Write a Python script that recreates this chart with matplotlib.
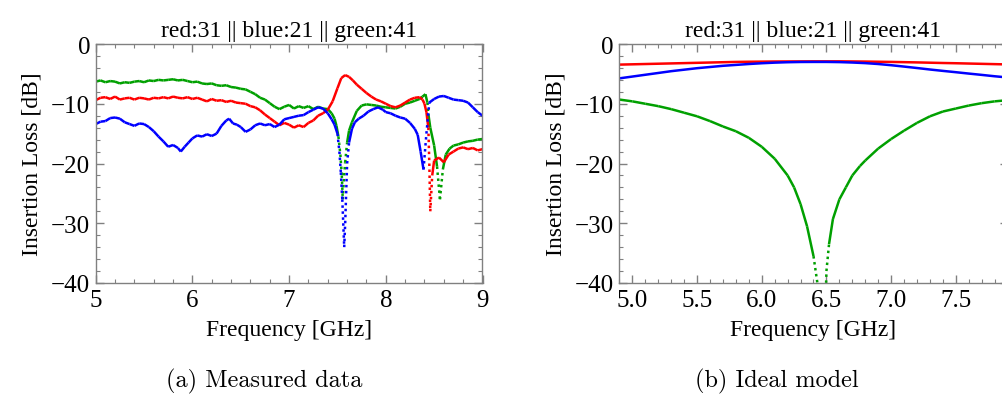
import matplotlib
matplotlib.use("Agg")
import matplotlib.pyplot as plt
from matplotlib.ticker import MultipleLocator, FuncFormatter, FormatStrFormatter

# ---- measured data (panel a) ----
red_f = [5.00, 5.05, 5.10, 5.15, 5.20, 5.25, 5.30, 5.35, 5.40, 5.45, 5.50, 5.55, 5.60, 5.65,
         5.70, 5.75, 5.80, 5.85, 5.90, 5.95, 6.00, 6.05, 6.10, 6.15, 6.20, 6.25, 6.30, 6.35,
         6.40, 6.45, 6.50, 6.55, 6.60, 6.65, 6.70, 6.75, 6.80, 6.85, 6.90, 6.95, 7.00, 7.05,
         7.10, 7.15, 7.20, 7.25, 7.30, 7.35, 7.40, 7.45, 7.50, 7.54, 7.58, 7.62, 7.66, 7.70,
         7.75, 7.80, 7.85, 7.90, 7.95, 8.00, 8.05, 8.10, 8.15, 8.20, 8.25, 8.30, 8.35, 8.38,
         8.40, 8.42, 8.44, 8.45, 8.46, 8.48, 8.50, 8.55, 8.60, 8.65, 8.70, 8.75, 8.80, 8.85,
         8.90, 8.95, 9.00]
red_db = [-9.4, -9.0, -8.9, -9.2, -8.8, -9.3, -9.1, -9.0, -9.3, -9.0, -9.1, -9.3, -9.0, -9.1,
          -8.9, -9.1, -8.8, -9.0, -9.1, -8.9, -9.2, -9.0, -9.3, -9.6, -9.2, -9.5, -9.4, -9.7,
          -9.5, -9.8, -9.9, -10.0, -10.4, -10.6, -11.1, -11.8, -12.4, -13.0, -13.6, -13.2, -13.5, -14.0,
          -13.6, -13.9, -13.2, -12.8, -12.0, -11.6, -11.0, -9.6, -7.4, -5.7, -5.2, -5.5, -6.1, -6.8,
          -7.5, -8.2, -8.8, -9.3, -9.6, -10.0, -10.4, -10.6, -10.3, -9.8, -9.3, -9.0, -8.9, -9.3,
          -10.0, -11.4, -14.0, -20.0, -28.0, -22.0, -19.5, -19.0, -19.8, -18.5, -18.0, -17.5, -17.3, -17.6,
          -17.4, -17.8, -17.6]

green_f = [5.00, 5.05, 5.10, 5.15, 5.20, 5.25, 5.30, 5.35, 5.40, 5.45, 5.50, 5.55, 5.60, 5.65,
           5.70, 5.75, 5.80, 5.85, 5.90, 5.95, 6.00, 6.05, 6.10, 6.15, 6.20, 6.25, 6.30, 6.35,
           6.40, 6.45, 6.50, 6.55, 6.60, 6.65, 6.70, 6.75, 6.80, 6.85, 6.90, 6.95, 7.00, 7.05,
           7.10, 7.15, 7.20, 7.25, 7.30, 7.35, 7.40, 7.44, 7.47, 7.49, 7.51, 7.53, 7.545, 7.555,
           7.565, 7.58, 7.60, 7.62, 7.65, 7.70, 7.75, 7.80, 7.85, 7.90, 7.95, 8.00, 8.05, 8.10,
           8.15, 8.20, 8.25, 8.30, 8.35, 8.38, 8.41, 8.43, 8.44, 8.46, 8.50, 8.53, 8.56, 8.59,
           8.62, 8.66, 8.70, 8.75, 8.80, 8.85, 8.90, 8.95, 9.00]
green_db = [-6.3, -6.1, -6.4, -6.2, -6.3, -6.6, -6.4, -6.5, -6.3, -6.2, -6.4, -6.1, -6.2, -6.0,
            -6.1, -6.0, -5.9, -6.1, -6.0, -6.2, -6.4, -6.3, -6.6, -6.7, -6.6, -6.9, -7.0, -6.9,
            -7.2, -7.3, -7.5, -7.6, -8.0, -8.4, -9.0, -9.3, -9.9, -10.5, -10.9, -10.5, -10.2, -10.8,
            -10.4, -10.7, -10.4, -10.9, -10.5, -10.8, -10.9, -11.6, -12.5, -13.7, -15.5, -18.5, -22.0, -26.0,
            -23.0, -19.8, -16.5, -14.5, -13.1, -11.2, -10.3, -10.1, -10.2, -10.3, -10.5, -10.6, -10.7, -10.8,
            -10.5, -10.0, -9.8, -9.5, -9.2, -8.8, -8.4, -9.8, -11.7, -14.0, -17.0, -20.5, -26.0, -21.0,
            -18.5, -17.5, -17.0, -16.8, -16.5, -16.3, -16.2, -16.0, -15.9]

blue_f = [5.00, 5.05, 5.10, 5.15, 5.20, 5.25, 5.30, 5.35, 5.40, 5.45, 5.50, 5.55, 5.60, 5.65,
          5.70, 5.75, 5.80, 5.85, 5.88, 5.92, 5.96, 6.00, 6.05, 6.10, 6.15, 6.20, 6.25, 6.30,
          6.35, 6.38, 6.42, 6.46, 6.50, 6.55, 6.60, 6.65, 6.70, 6.75, 6.80, 6.85, 6.90, 6.95,
          7.00, 7.05, 7.10, 7.15, 7.20, 7.25, 7.30, 7.35, 7.40, 7.44, 7.47, 7.50, 7.52, 7.535,
          7.55, 7.56, 7.57, 7.58, 7.59, 7.60, 7.62, 7.65, 7.68, 7.72, 7.77, 7.82, 7.87, 7.92,
          7.97, 8.00, 8.05, 8.10, 8.15, 8.20, 8.25, 8.30, 8.33, 8.36, 8.39, 8.42, 8.45, 8.50,
          8.55, 8.60, 8.65, 8.70, 8.75, 8.80, 8.85, 8.90, 8.95, 9.00]
blue_db = [-13.4, -13.0, -12.9, -12.4, -12.3, -12.5, -13.1, -13.4, -13.7, -13.3, -13.4, -13.9, -14.6, -15.5,
           -16.3, -17.2, -16.9, -17.4, -18.0, -17.2, -16.5, -15.8, -15.3, -15.5, -15.1, -15.4, -15.0, -13.7,
           -12.8, -12.5, -13.3, -13.5, -13.9, -14.7, -14.3, -13.6, -13.3, -13.6, -13.4, -13.9, -13.5, -12.6,
           -12.4, -12.2, -12.0, -11.9, -11.4, -11.0, -10.6, -10.8, -11.6, -12.6, -13.5, -15.0, -18.0, -21.5,
           -26.0, -30.0, -34.0, -30.0, -25.0, -20.0, -16.5, -14.2, -13.1, -12.5, -12.0, -11.3, -10.9, -10.6,
           -11.0, -11.4, -11.6, -12.0, -12.3, -12.5, -13.2, -14.2, -15.2, -18.0, -21.0, -15.0, -9.8, -9.2,
           -8.8, -8.7, -9.0, -9.3, -9.4, -9.5, -9.8, -10.6, -11.4, -12.0]

# ---- ideal model (panel b) ----
model_f = [4.90, 5.00, 5.10, 5.20, 5.30, 5.40, 5.50, 5.60, 5.70, 5.80, 5.90, 6.00, 6.10, 6.20,
           6.30, 6.40, 6.50, 6.60, 6.70, 6.80, 6.90, 7.00, 7.10, 7.20, 7.30, 7.40, 7.50, 7.60,
           7.70, 7.80, 7.90]
model_red = [-3.45, -3.40, -3.35, -3.30, -3.25, -3.20, -3.15, -3.10, -3.05, -3.00, -2.97, -2.95, -2.93, -2.92,
             -2.91, -2.90, -2.90, -2.90, -2.92, -2.94, -2.97, -3.00, -3.04, -3.08, -3.13, -3.18, -3.22, -3.27,
             -3.32, -3.37, -3.42]
model_blue = [-5.75, -5.45, -5.15, -4.85, -4.55, -4.30, -4.05, -3.85, -3.65, -3.50, -3.35, -3.22, -3.12, -3.05,
              -3.01, -3.00, -3.00, -3.03, -3.10, -3.20, -3.35, -3.55, -3.78, -4.02, -4.27, -4.50, -4.72, -4.95,
              -5.17, -5.40, -5.60]

green_model_f = [4.90, 5.00, 5.10, 5.20, 5.30, 5.40, 5.50, 5.60, 5.70, 5.80, 5.90, 6.00, 6.10, 6.20,
                 6.25, 6.30, 6.35, 6.40, 6.43, 6.45, 6.47, 6.49, 6.50, 6.52, 6.55, 6.60, 6.65, 6.70,
                 6.76, 6.80, 6.90, 7.00, 7.10, 7.20, 7.30, 7.40, 7.50, 7.60, 7.70, 7.80, 7.90]
green_model_db = [-9.3, -9.6, -10.0, -10.4, -10.9, -11.5, -12.1, -12.9, -13.8, -14.6, -15.7, -17.2, -19.2, -22.0,
                  -24.0, -26.8, -30.5, -35.5, -40.0, -46.0, -50.0, -46.0, -38.0, -33.5, -29.3, -26.0, -24.0, -22.0,
                  -20.4, -19.5, -17.5, -15.9, -14.5, -13.2, -12.1, -11.3, -10.8, -10.3, -9.9, -9.6, -9.4]

TITLE = "red:31 || blue:21 || green:41"
RED, BLUE, GREEN = "#ff0000", "#0000ff", "#00a000"
FRAME = "#808080"

plt.rcParams["font.family"] = ["Liberation Serif", "DejaVu Serif"]

W, H = 1003, 406
fig = plt.figure(figsize=(W / 100, H / 100), dpi=100)


def px_axes(x0, x1, y0, y1):
    return fig.add_axes([x0 / W, 1 - y1 / H, (x1 - x0) / W, (y1 - y0) / H])


def trace(ax, f, db, color, steep):
    # sampled points spread apart on steep flanks, so draw those segments dotted
    for i in range(len(f) - 1):
        slope = abs((db[i + 1] - db[i]) / (f[i + 1] - f[i]))
        ls = (0, (1, 1.4)) if slope > steep else "-"
        ax.plot(f[i:i + 2], db[i:i + 2], color=color, lw=1.8, ls=ls,
                solid_capstyle="butt", dash_capstyle="butt")


def minus_fmt(v, pos):
    return "\u2212%d" % -v if v < 0 else "%d" % v


def style(ax, xmaj, xmin):
    for s in ax.spines.values():
        s.set_color(FRAME)
        s.set_linewidth(1.0)
    ax.set_ylim(-40, 0)
    ax.xaxis.set_major_locator(MultipleLocator(xmaj))
    ax.xaxis.set_minor_locator(MultipleLocator(xmin))
    ax.yaxis.set_major_locator(MultipleLocator(10))
    ax.yaxis.set_minor_locator(MultipleLocator(2))
    ax.yaxis.set_major_formatter(FuncFormatter(minus_fmt))
    ax.tick_params(which="both", direction="in", top=True, right=True, color=FRAME,
                   labelsize=18, pad=4)
    ax.tick_params(which="major", length=6, width=1.0)
    ax.tick_params(which="minor", length=3, width=0.8)
    ax.set_xlabel("Frequency [GHz]", fontsize=17, labelpad=6)
    ax.set_ylabel("Insertion Loss [dB]", fontsize=17, labelpad=6)
    ax.set_title(TITLE, fontsize=17, pad=6)


# panel (a)
ax1 = px_axes(95.7, 482.5, 45, 284)
trace(ax1, green_f, green_db, GREEN, 140)
trace(ax1, red_f, red_db, RED, 140)
trace(ax1, blue_f, blue_db, BLUE, 140)
ax1.set_xlim(5, 9)
style(ax1, 1, 0.2)

# panel (b)
ax2 = px_axes(619.4, 1007.6, 45, 284)
ax2.plot(model_f, model_red, color=RED, lw=1.8)
ax2.plot(model_f, model_blue, color=BLUE, lw=1.8)
trace(ax2, green_model_f, green_model_db, GREEN, 145)
ax2.set_xlim(4.9, 7.9)
style(ax2, 0.5, 0.1)
ax2.xaxis.set_major_formatter(FormatStrFormatter("%.1f"))

fig.text(264 / W, 1 - 381 / H, "(a) Measured data", family="cmr10", fontsize=17.5,
         ha="center", va="center")
fig.text(777 / W, 1 - 381 / H, "(b) Ideal model", family="cmr10", fontsize=17.5,
         ha="center", va="center")

fig.savefig("out.png", dpi=100)
